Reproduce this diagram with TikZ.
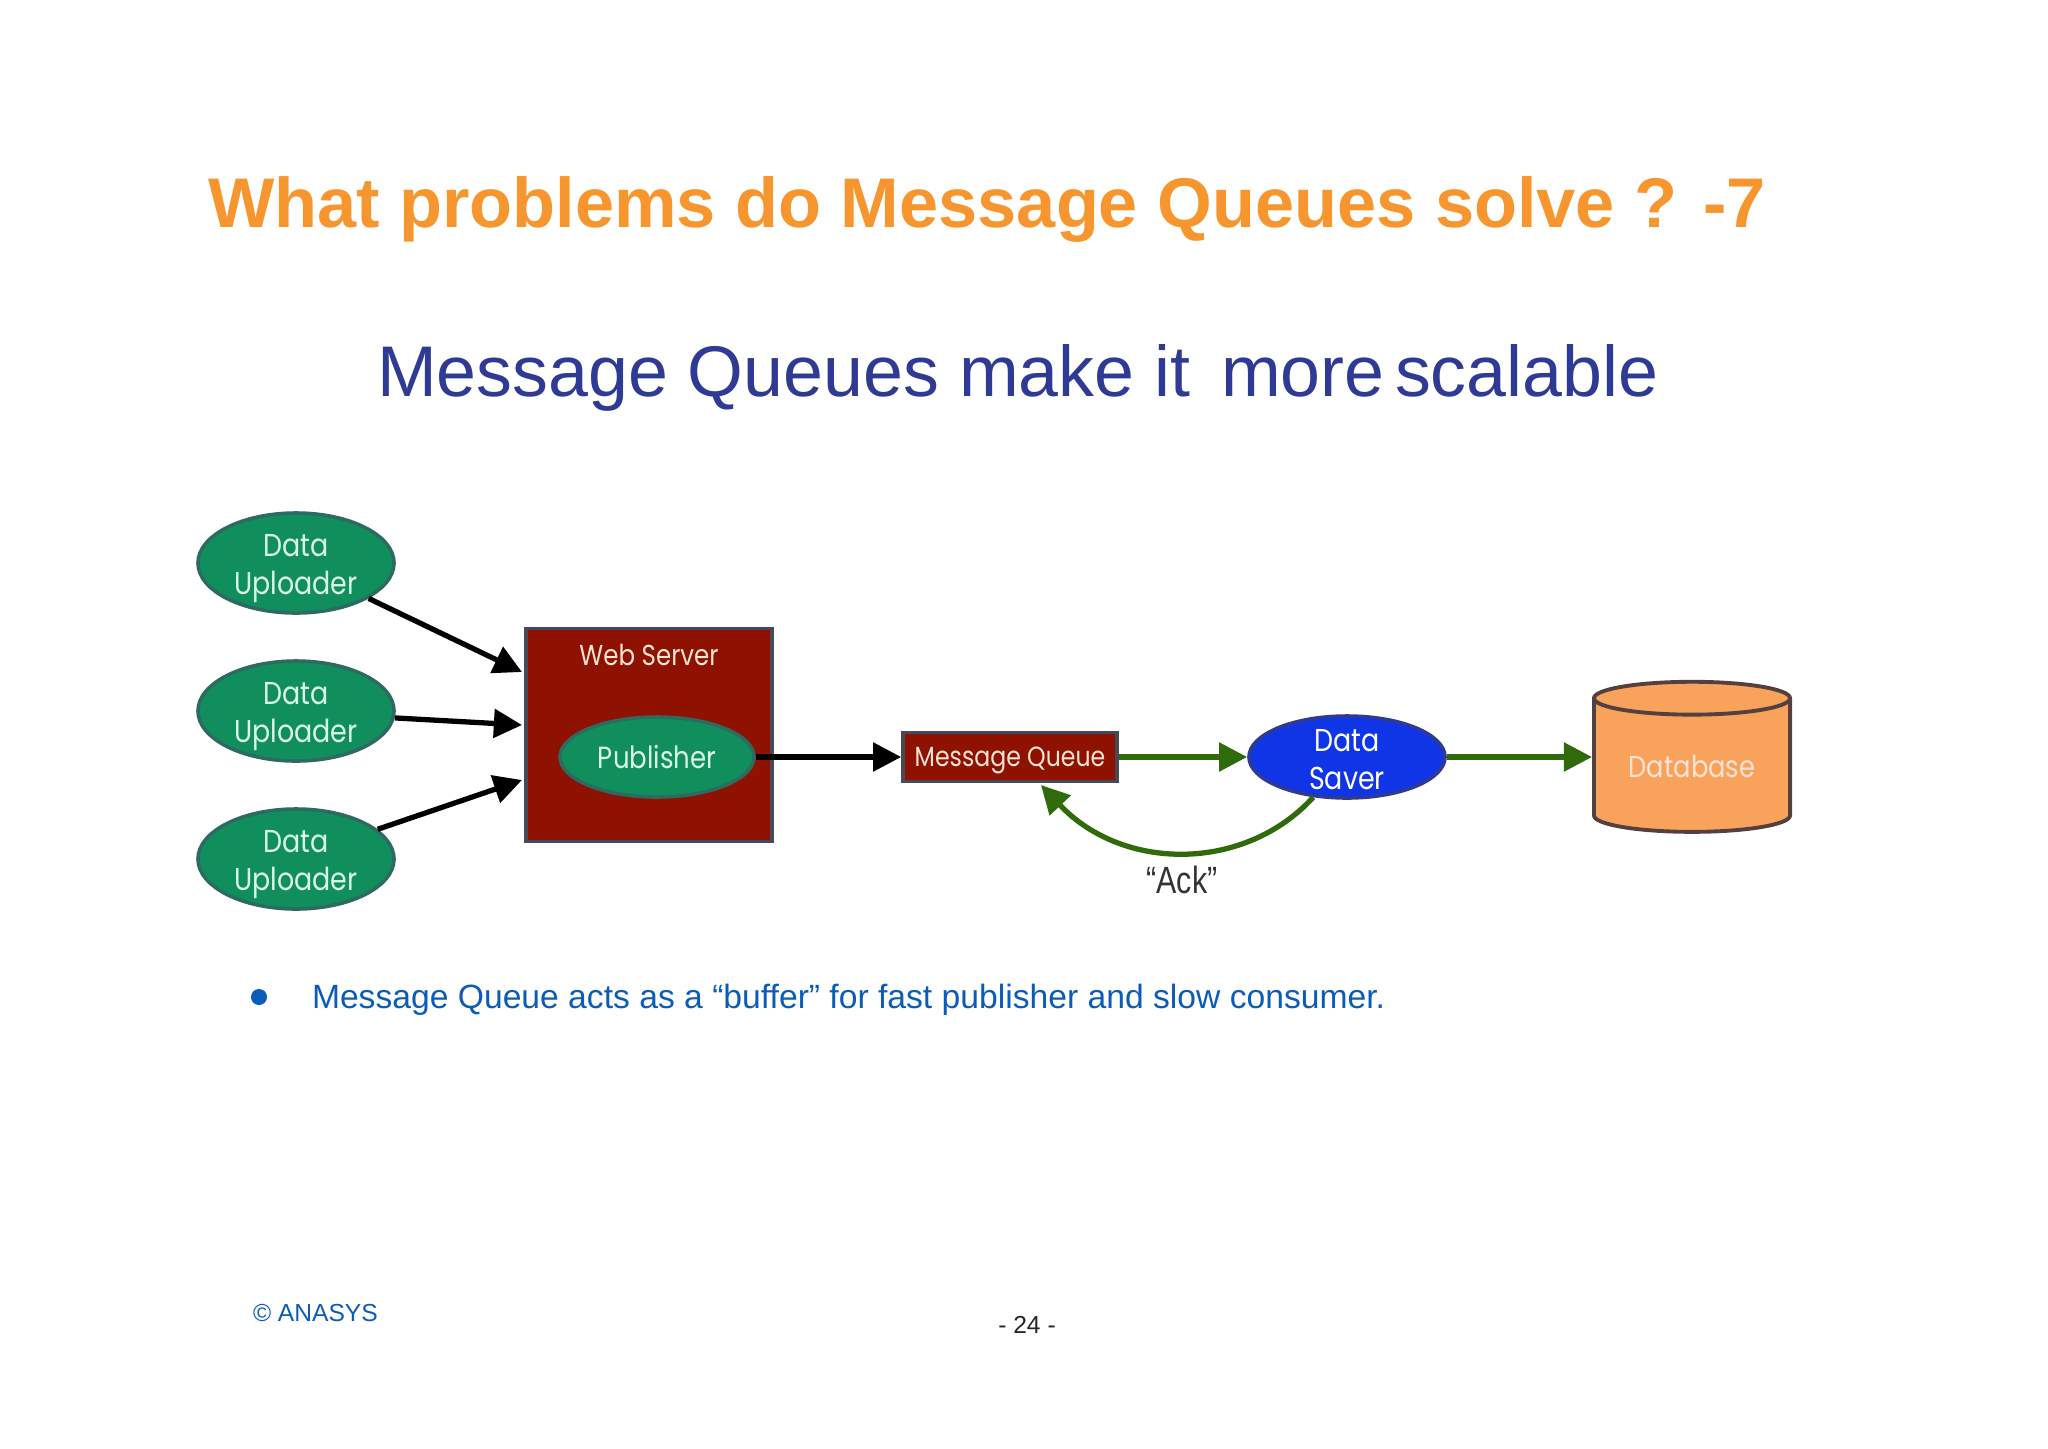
\documentclass[tikz,border=0pt]{standalone}
\usepackage{fontspec}
\usepackage{tikz}
\usetikzlibrary{arrows.meta,shapes.geometric}
\setmainfont{Liberation Sans}
\newfontfamily\boxfont[FakeStretch=0.85]{Poppins}
\newfontfamily\ackfont[FakeStretch=0.8,Ligatures=TeX]{Liberation Sans}
\definecolor{titleorange}{HTML}{F7962E}
\definecolor{subblue}{HTML}{2F3A94}
\definecolor{textblue}{HTML}{0B5CB8}
\definecolor{nodegreen}{HTML}{108F5C}
\definecolor{edgegreen}{HTML}{2C6A62}
\definecolor{boxred}{HTML}{8F1100}
\definecolor{boxedge}{HTML}{45495A}
\definecolor{saverblue}{HTML}{0F35E6}
\definecolor{dbfill}{HTML}{F9A25C}
\definecolor{dbedge}{HTML}{54403F}
\definecolor{ackgreen}{HTML}{2F6B0A}
\definecolor{mint}{HTML}{D8F7E4}
\definecolor{pinkish}{HTML}{FBE3D6}
\tikzset{
  greenoval/.style={ellipse,draw=edgegreen,fill=nodegreen,line width=1pt,inner xsep=0pt,inner ysep=-7pt,text=mint,align=center,font=\boxfont\fontsize{9}{10.8}\selectfont},
  redbox/.style={rectangle,draw=boxedge,fill=boxred,line width=1pt,inner sep=0pt},
  plaintext/.style={inner sep=0pt,outer sep=0pt},
  blackarrow/.style={black,line width=1.5pt,-{Triangle[length=8pt,width=8pt]}},
  greenarrow/.style={ackgreen,line width=1.5pt,-{Triangle[length=8pt,width=8pt]}}
}
\begin{document}
\begin{tikzpicture}[x=0.01cm,y=-0.01cm]
      \useasboundingbox (0,0) rectangle (2048,1448);
      \node[plaintext,anchor=base west,text=titleorange,font=\bfseries\fontsize{20}{24}\selectfont] (title) at (208,227) {What problems do Message Queues solve ? -7};
      \node[plaintext,anchor=base west,text=subblue,font=\fontsize{20.4}{25}\selectfont] (subtitle) at (377,396) {Message Queues make it\hspace{0.15em} more\hspace{-0.13em} scalable};

      \node[greenoval,minimum width=1.96cm,minimum height=1cm] (uploaderone) at (296,563) {\rule{0pt}{9.3pt}Data\\Uploader};
      \node[greenoval,minimum width=1.96cm,minimum height=1cm] (uploadertwo) at (296,711) {\rule{0pt}{9.3pt}Data\\Uploader};
      \node[greenoval,minimum width=1.96cm,minimum height=1cm] (uploaderthree) at (296,859) {\rule{0pt}{9.3pt}Data\\Uploader};

      \node[redbox,minimum width=2.46cm,minimum height=2.13cm] (webserver) at (649,735) {};
      \node[plaintext,text=pinkish,font=\boxfont\fontsize{8.2}{10}\selectfont] (weblabel) at (649,655) {Web Server};
      \node[greenoval,font=\boxfont\fontsize{8.7}{10}\selectfont,minimum width=1.94cm,minimum height=0.8cm] (publisher) at (657,757) {Publisher};

      \node[redbox,minimum width=2.14cm,minimum height=0.49cm,text=pinkish,text height=7.7pt,font=\boxfont\fontsize{7.9}{10}\selectfont] (queue) at (1010,757) {Message Queue};
      \node[greenoval,draw=subblue,fill=saverblue,text=white,minimum width=1.96cm,minimum height=0.82cm] (saver) at (1347,757) {\rule{0pt}{8pt}Data\\Saver};
      \node[cylinder,shape border rotate=90,aspect=0.26,draw=dbedge,fill=dbfill,line width=1.1pt,inner sep=0pt,minimum width=1.96cm,minimum height=1.5cm,text=pinkish,font=\boxfont\fontsize{8.6}{10}\selectfont] (database) at (1692,766) {Database};
      \node[plaintext,text=black!80,font=\ackfont\fontsize{10.8}{12}\selectfont] (ack) at (1182,880) {``Ack''};

      \coordinate (webinone) at (522,672);
      \coordinate (webintwo) at (522,725);
      \coordinate (webinthree) at (522,780);
      \coordinate (queueback) at (1041,785);
      \draw[blackarrow] (uploaderone.-26) -- (webinone);
      \draw[blackarrow] (uploadertwo.-4) -- (webintwo);
      \draw[blackarrow] (uploaderthree.20) -- (webinthree);
      \draw[blackarrow] (publisher.east) -- (queue.west);
      \draw[greenarrow] (queue.east) -- (saver.west);
      \draw[greenarrow] (saver.east) -- (saver.east -| database.west);
      \draw[greenarrow] (saver.-130) .. controls (1245,872) and (1123,872) .. (queueback);

      \node[circle,fill=textblue,inner sep=0pt,minimum size=0.16cm] (bullet) at (259,997) {};
      \node[plaintext,anchor=base west,text=textblue,font=\fontsize{9.57}{12}\selectfont] (point) at (312,1008) {Message Queue acts as a ``buffer'' for fast publisher and slow consumer.};
      \node[plaintext,anchor=base west,text=textblue,font=\fontsize{7}{9}\selectfont] (copyright) at (253,1321) {© ANASYS};
      \node[plaintext,anchor=base,text=black!85,font=\fontsize{7}{9}\selectfont] (page) at (1027,1333) {- 24 -};
\end{tikzpicture}
\end{document}
